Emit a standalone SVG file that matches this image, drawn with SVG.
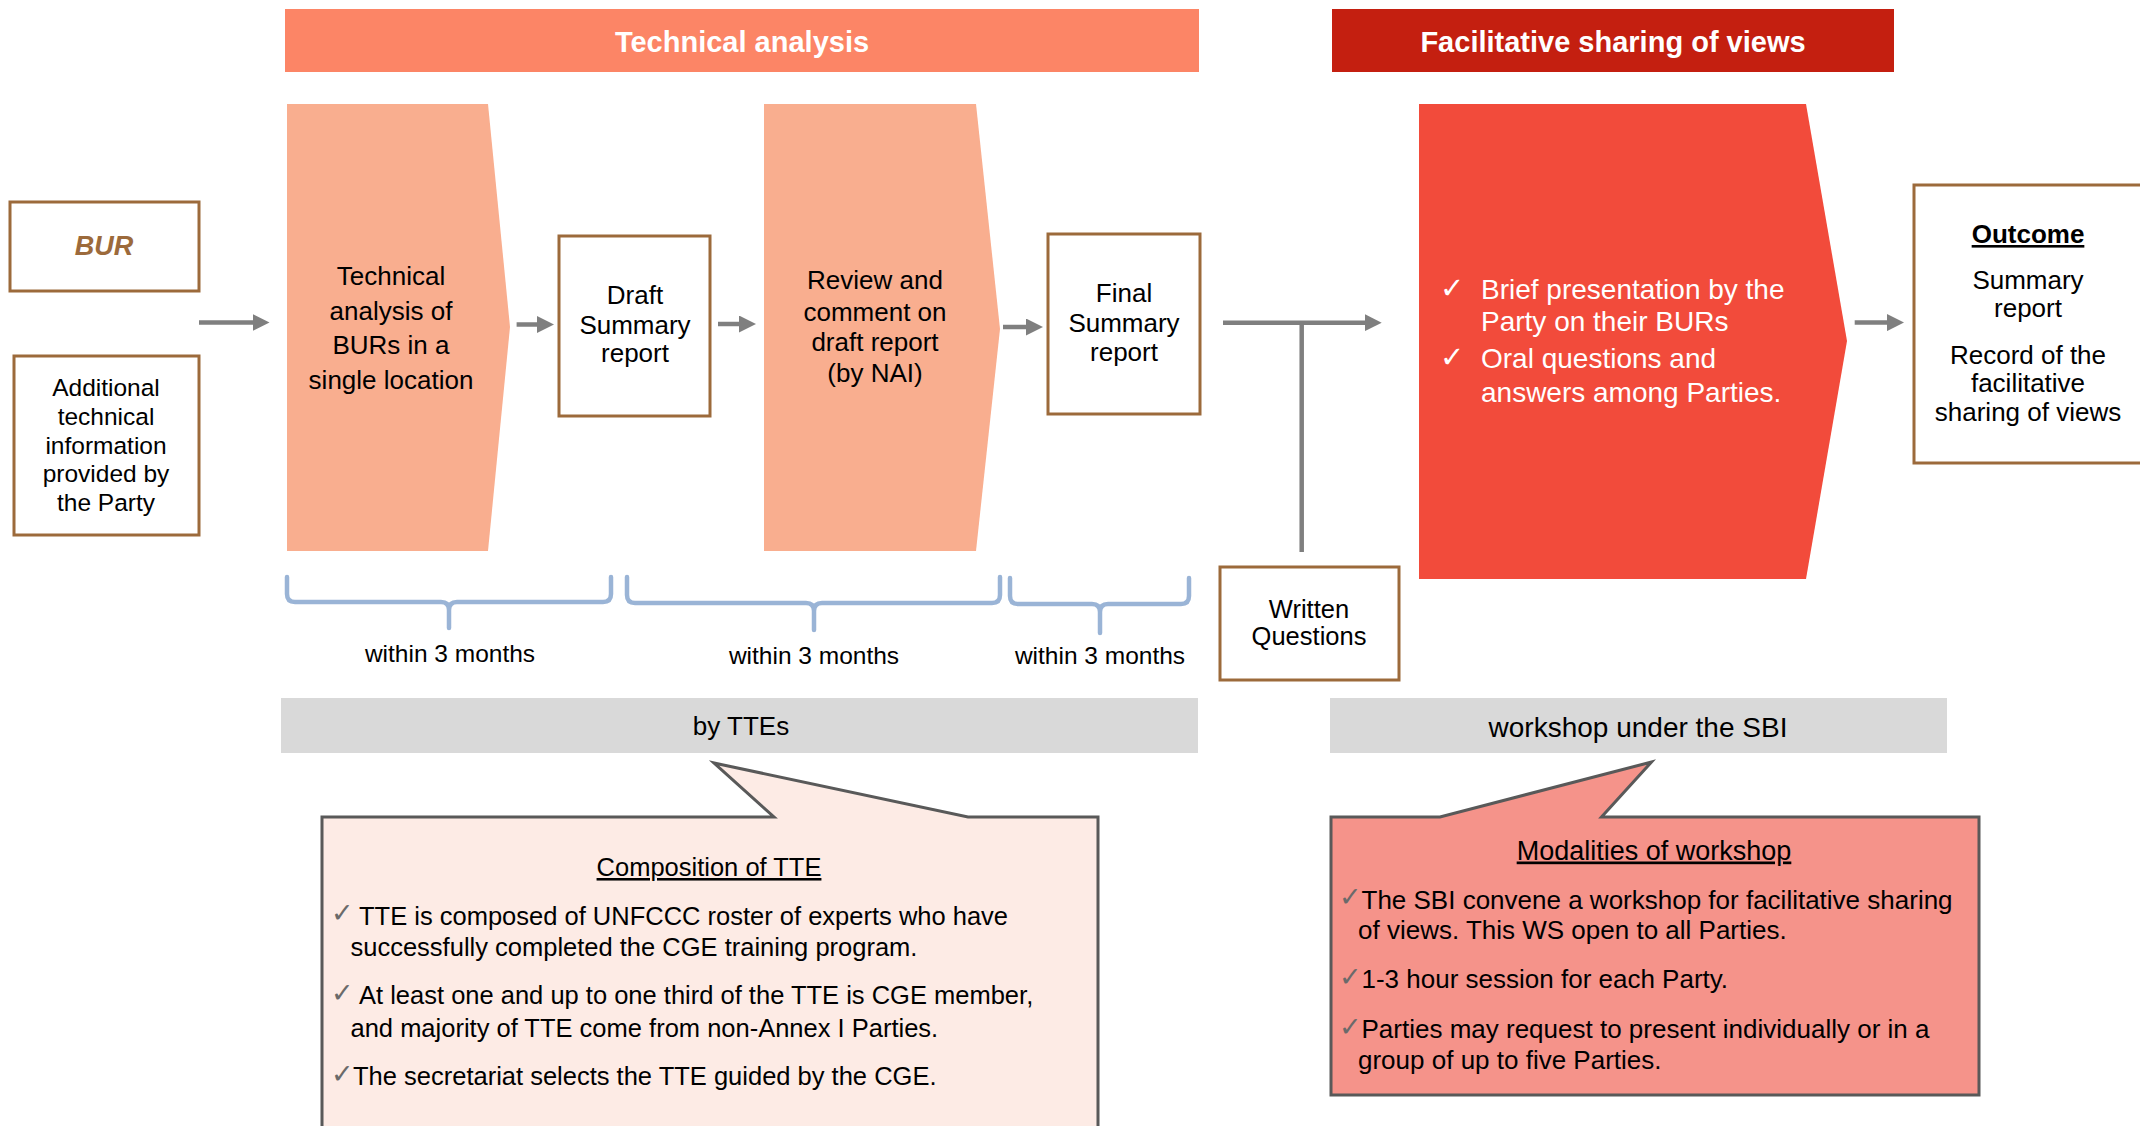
<svg xmlns="http://www.w3.org/2000/svg" width="2140" height="1126" viewBox="0 0 2140 1126">
<style>
text{font-family:"Liberation Sans",Arial,sans-serif;fill:#000}
.c{text-anchor:middle}
.w{fill:#fff}
.hd{font-weight:bold;font-size:29px;fill:#fff;text-anchor:middle}
.box{fill:#fff;stroke:#9C6A3B;stroke-width:3}
.chk{font-family:"DejaVu Sans",sans-serif}
.ck1{font-size:27px;fill:#6A6A6A}
.conn{stroke:#7F7F7F;stroke-width:4.5;fill:none}
.brace{stroke:#9AB4D6;stroke-width:4.5;fill:none;stroke-linecap:round;stroke-linejoin:round}
.call{stroke:#595959;stroke-width:3}
.bar{fill:#D9D9D9}
</style>
<defs>
<marker id="ah" markerUnits="userSpaceOnUse" markerWidth="17" markerHeight="17" refX="7" refY="8.5" orient="auto">
<path d="M0,0 L17,8.5 L0,17 Z" fill="#7F7F7F"/>
</marker>
</defs>

<g id="header-technical">
<rect x="285" y="9" width="914" height="63" fill="#FC8566"/>
<text class="hd" x="742" y="52">Technical analysis</text>
</g>
<g id="header-facilitative">
<rect x="1332" y="9" width="562" height="63" fill="#C41F10"/>
<text class="hd" x="1613" y="52">Facilitative sharing of views</text>
</g>

<g id="bur">
<rect class="box" x="10" y="202" width="189" height="89"/>
<text class="c" x="104" y="255" style="font-size:27px;font-weight:bold;font-style:italic;fill:#9C6A3B">BUR</text>
</g>
<g id="additional">
<rect class="box" x="14" y="356" width="185" height="179"/>
<text class="c" style="font-size:24.5px" x="106"><tspan x="106" y="396">Additional</tspan><tspan x="106" y="425">technical</tspan><tspan x="106" y="453.5">information</tspan><tspan x="106" y="482">provided by</tspan><tspan x="106" y="511">the Party</tspan></text>
</g>

<g id="tech-analysis">
<path d="M287,104 L488,104 L510,327 L488,551 L287,551 Z" fill="#F9AE8F"/>
<text class="c" style="font-size:26px"><tspan x="391" y="285">Technical</tspan><tspan x="391" y="320">analysis of</tspan><tspan x="391" y="354">BURs in a</tspan><tspan x="391" y="389">single location</tspan></text>
</g>
<g id="draft-summary">
<rect class="box" x="559" y="236" width="151" height="180"/>
<text class="c" style="font-size:26px"><tspan x="635" y="304">Draft</tspan><tspan x="635" y="334">Summary</tspan><tspan x="635" y="362">report</tspan></text>
</g>
<g id="review">
<path d="M764,104 L976,104 L1000,329 L976,551 L764,551 Z" fill="#F9AE8F"/>
<text class="c" style="font-size:26px"><tspan x="875" y="289">Review and</tspan><tspan x="875" y="320.5">comment on</tspan><tspan x="875" y="351">draft report</tspan><tspan x="875" y="381.5">(by NAI)</tspan></text>
</g>
<g id="final-summary">
<rect class="box" x="1048" y="234" width="152" height="180"/>
<text class="c" style="font-size:26px"><tspan x="1124" y="302">Final</tspan><tspan x="1124" y="332">Summary</tspan><tspan x="1124" y="360.5">report</tspan></text>
</g>
<g id="written-questions">
<rect class="box" x="1220" y="567" width="179" height="113"/>
<text class="c" style="font-size:25.5px"><tspan x="1309" y="618">Written</tspan><tspan x="1309" y="645">Questions</tspan></text>
</g>
<g id="fsv">
<path d="M1419,104 L1806,104 L1847,341 L1806,579 L1419,579 Z" fill="#F24B3B"/>
<text class="chk w" x="1440" y="298" style="font-size:29px">✓</text>
<text class="w" style="font-size:28px"><tspan x="1481" y="298.5">Brief presentation by the</tspan><tspan x="1481" y="331">Party on their BURs</tspan></text>
<text class="chk w" x="1440" y="367" style="font-size:29px">✓</text>
<text class="w" style="font-size:28px"><tspan x="1481" y="367.5">Oral questions and</tspan><tspan x="1481" y="402">answers among Parties.</tspan></text>
</g>
<g id="outcome">
<rect class="box" x="1914" y="185" width="240" height="278"/>
<text class="c" x="2028" y="243" style="font-size:26px;font-weight:bold;text-decoration:underline">Outcome</text>
<text class="c" style="font-size:26px"><tspan x="2028" y="289">Summary</tspan><tspan x="2028" y="317">report</tspan><tspan x="2028" y="363.5">Record of the</tspan><tspan x="2028" y="392">facilitative</tspan><tspan x="2028" y="421">sharing of views</tspan></text>
</g>

<g id="connectors">
<line class="conn" x1="199" y1="322.6" x2="259.5" y2="322.6" marker-end="url(#ah)"/>
<line class="conn" x1="516.6" y1="324.5" x2="544" y2="324.5" marker-end="url(#ah)"/>
<line class="conn" x1="718" y1="324" x2="746" y2="324" marker-end="url(#ah)"/>
<line class="conn" x1="1003" y1="327" x2="1033" y2="327" marker-end="url(#ah)"/>
<line class="conn" x1="1223" y1="322.7" x2="1371.7" y2="322.7" marker-end="url(#ah)"/>
<line class="conn" x1="1301.7" y1="322.7" x2="1301.7" y2="552"/>
<line class="conn" x1="1854.7" y1="322.6" x2="1894" y2="322.6" marker-end="url(#ah)"/>
</g>

<g id="braces">
<path class="brace" d="M287,577 L287,594 Q287,602 295,602 L441,602 Q449,602 449,610 L449,628 M449,610 Q449,602 457,602 L603,602 Q611,602 611,594 L611,577"/>
<path class="brace" d="M627,577 L627,595 Q627,603 635,603 L806,603 Q814,603 814,611 L814,630 M814,611 Q814,603 822,603 L992,603 Q1000,603 1000,595 L1000,577"/>
<path class="brace" d="M1010,578 L1010,596 Q1010,604 1018,604 L1092,604 Q1100,604 1100,612 L1100,633 M1100,612 Q1100,604 1108,604 L1181,604 Q1189,604 1189,596 L1189,578"/>
<text class="c" x="450" y="662" style="font-size:24.5px">within 3 months</text>
<text class="c" x="814" y="664" style="font-size:24.5px">within 3 months</text>
<text class="c" x="1100" y="664" style="font-size:24.5px">within 3 months</text>
</g>

<g id="by-ttes">
<rect class="bar" x="281" y="698" width="917" height="55"/>
<text class="c" x="741" y="735" style="font-size:26px">by TTEs</text>
</g>
<g id="workshop-sbi">
<rect class="bar" x="1330" y="698" width="617" height="55"/>
<text class="c" x="1638" y="737" style="font-size:28px">workshop under the SBI</text>
</g>

<g id="composition-callout">
<path class="call" d="M322,817 L774,817 L714,763 L968,817 L1098,817 L1098,1140 L322,1140 Z" fill="#FDEBE5"/>
<text class="c" x="709" y="876" style="font-size:25.5px;text-decoration:underline">Composition of TTE</text>
<g style="font-size:25.5px">
<text class="chk ck1" x="331" y="922">✓</text>
<text><tspan x="359" y="924.5">TTE is composed of UNFCCC roster of experts who have</tspan><tspan x="350.5" y="955.5">successfully completed the CGE training program.</tspan></text>
<text class="chk ck1" x="331" y="1002">✓</text>
<text><tspan x="359" y="1004">At least one and up to one third of the TTE is CGE member,</tspan><tspan x="350.5" y="1036.5">and majority of TTE come from non-Annex I Parties.</tspan></text>
<text class="chk ck1" x="331" y="1083">✓</text>
<text x="353" y="1085">The secretariat selects the TTE guided by the CGE.</text>
</g>
</g>

<g id="modalities-callout">
<path class="call" d="M1331,817 L1440,817 L1651.5,762 L1601.5,817 L1979,817 L1979,1095 L1331,1095 Z" fill="#F5938A"/>
<text class="c" x="1654" y="859.5" style="font-size:27px;text-decoration:underline">Modalities of workshop</text>
<g style="font-size:26px">
<text class="chk ck1" x="1339" y="906">✓</text>
<text><tspan x="1361.5" y="908.5">The SBI convene a workshop for facilitative sharing</tspan><tspan x="1358" y="939">of views. This WS open to all Parties.</tspan></text>
<text class="chk ck1" x="1339" y="986">✓</text>
<text x="1361.5" y="988">1-3 hour session for each Party.</text>
<text class="chk ck1" x="1339" y="1036">✓</text>
<text><tspan x="1361.5" y="1038">Parties may request to present individually or in a</tspan><tspan x="1358" y="1069">group of up to five Parties.</tspan></text>
</g>
</g>
</svg>
